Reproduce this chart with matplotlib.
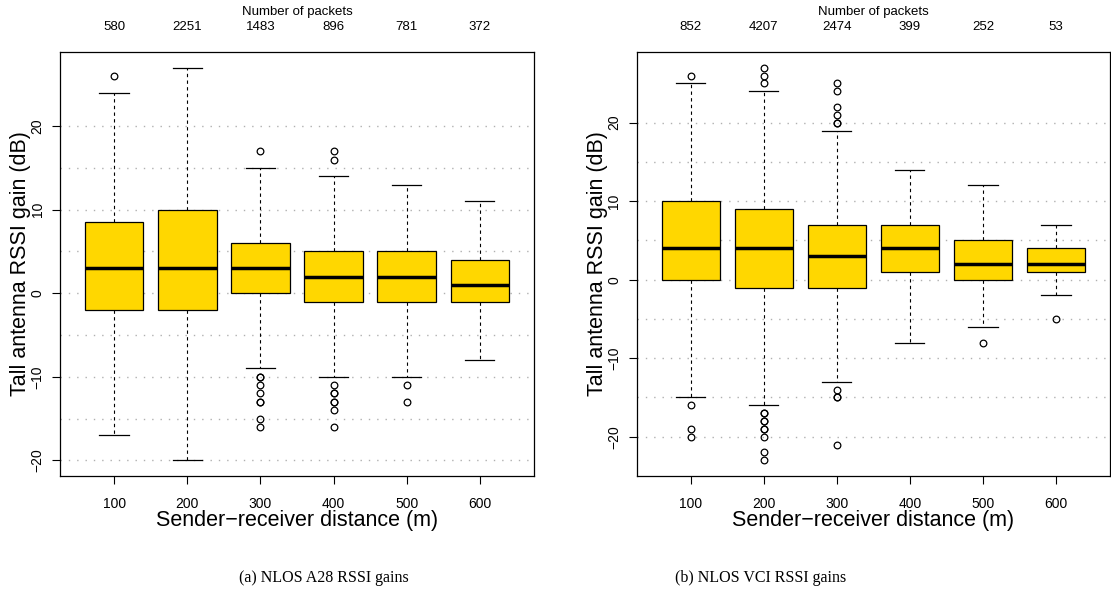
import matplotlib
matplotlib.use("Agg")
import matplotlib.pyplot as plt

plt.rcParams["font.family"] = ["Liberation Sans", "DejaVu Sans"]

distances = [100, 200, 300, 400, 500, 600]

# (a) NLOS A28
a28_packets = [580, 2251, 1483, 896, 781, 372]
a28_q1 = [-2, -2, 0, -1, -1, -1]
a28_med = [3, 3, 3, 2, 2, 1]
a28_q3 = [8.5, 10, 6, 5, 5, 4]
a28_whislo = [-17, -20, -9, -10, -10, -8]
a28_whishi = [24, 27, 15, 14, 13, 11]
a28_fliers = [
    [26],
    [],
    [17, -10, -10, -11, -12, -13, -13, -15, -16],
    [16, 17, -11, -12, -12, -13, -13, -14, -16],
    [-11, -13],
    [],
]

# (b) NLOS VCI
vci_packets = [852, 4207, 2474, 399, 252, 53]
vci_q1 = [0, -1, -1, 1, 0, 1]
vci_med = [4, 4, 3, 4, 2, 2]
vci_q3 = [10, 9, 7, 7, 5, 4]
vci_whislo = [-15, -16, -13, -8, -6, -2]
vci_whishi = [25, 24, 19, 14, 12, 7]
vci_fliers = [
    [26, -16, -19, -20],
    [25, 26, 27, -17, -17, -18, -18, -19, -19, -20, -22, -23],
    [25, 24, 22, 21, 20, 20, -14, -15, -15, -21],
    [],
    [-8],
    [-5],
]


def draw_panel(ax, packets, q1, med, q3, wlo, whi, fliers, ylim):
    stats = []
    for i in range(len(distances)):
        stats.append(dict(med=med[i], q1=q1[i], q3=q3[i], whislo=wlo[i],
                          whishi=whi[i], fliers=fliers[i]))
    pos = list(range(1, len(distances) + 1))

    for y in range(-20, 21, 5):
        ax.axhline(y, color="#b0b0b0", lw=1.0, ls=(0, (1, 5)), zorder=0)

    ax.bxp(stats, positions=pos, widths=0.8, patch_artist=True,
           boxprops=dict(facecolor="#FFD700", edgecolor="black", lw=0.9),
           medianprops=dict(color="black", lw=2.5),
           whiskerprops=dict(color="black", lw=0.8, ls=(0, (3, 3))),
           capprops=dict(color="black", lw=0.9),
           capwidths=0.4,
           flierprops=dict(marker="o", markerfacecolor="none",
                           markeredgecolor="black", markersize=4.8,
                           markeredgewidth=0.9, ls="none"))

    ax.set_xlim(0.26, 6.74)
    ax.set_ylim(*ylim)
    ax.set_xticks(pos)
    ax.set_xticklabels([str(d) for d in distances], fontsize=10)
    ax.set_yticks([-20, -10, 0, 10, 20])
    ax.set_yticklabels(["\u221220", "\u221210", "0", "10", "20"], fontsize=10,
                       rotation=90, va="center")
    ax.tick_params(axis="x", length=6, width=0.8, pad=9)
    ax.tick_params(axis="y", length=6, width=0.8, pad=5)
    for s in ax.spines.values():
        s.set_linewidth(0.9)
        s.set_color("black")

    tr = ax.get_xaxis_transform()
    for p, n in zip(pos, packets):
        ax.text(p, 1.059, str(n), transform=tr, ha="center", va="center",
                fontsize=9.5)
    ax.text(0.5, 1.094, "Number of packets", transform=ax.transAxes,
            ha="center", va="center", fontsize=9.5)
    ax.text(0.5, -0.104, "Sender\u2212receiver distance (m)",
            transform=ax.transAxes, ha="center", va="center", fontsize=15.5)
    ax.text(-0.083, 0.5, "Tall antenna RSSI gain (dB)", transform=ax.transAxes,
            ha="center", va="center", rotation=90, fontsize=15.5)


fig = plt.figure(figsize=(11.11, 5.97), dpi=100)
ax1 = fig.add_axes([0.054, 0.2027, 0.4266, 0.7102])
ax2 = fig.add_axes([0.5731, 0.2027, 0.426, 0.7102])

draw_panel(ax1, a28_packets, a28_q1, a28_med, a28_q3, a28_whislo, a28_whishi,
           a28_fliers, (-21.88, 28.88))
draw_panel(ax2, vci_packets, vci_q1, vci_med, vci_q3, vci_whislo, vci_whishi,
           vci_fliers, (-25, 29))

fig.text(0.2915, 0.032, "(a) NLOS A28 RSSI gains", ha="center", va="center",
         fontsize=11.5, family=["Liberation Serif", "DejaVu Serif"])
fig.text(0.6845, 0.032, "(b) NLOS VCI RSSI gains", ha="center", va="center",
         fontsize=11.5, family=["Liberation Serif", "DejaVu Serif"])

fig.savefig("out.png", dpi=100)
plt.close(fig)
